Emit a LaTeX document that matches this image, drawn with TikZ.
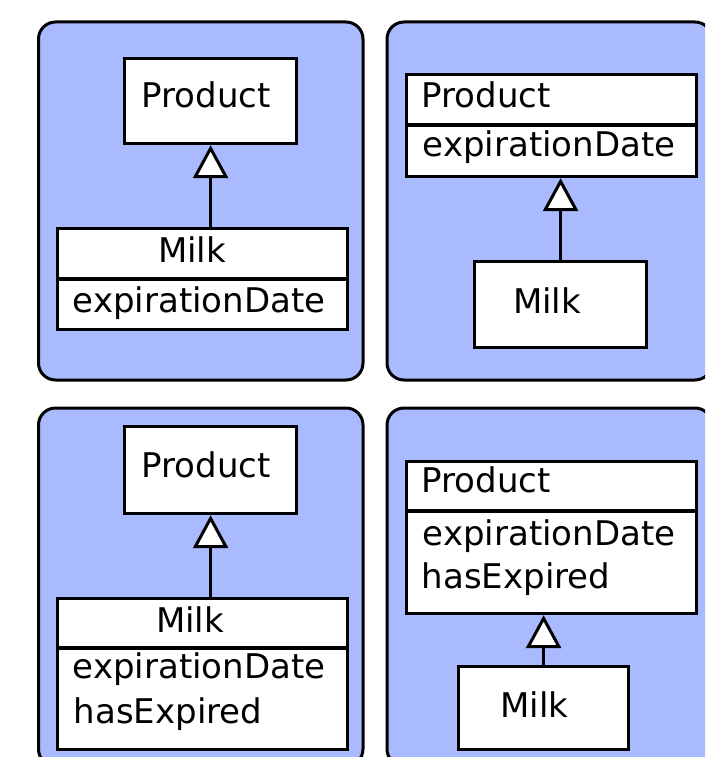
\documentclass[tikz,border=0pt]{standalone}
\usepackage{fontspec}
\newfontfamily\umlfont{DejaVu Sans}
\usetikzlibrary{arrows.meta,calc}
\definecolor{panelblue}{RGB}{170,186,255}
\tikzset{
  panel/.style={draw=black, line width=3pt, fill=panelblue, rounded corners=17pt},
  cls/.style={draw=black, line width=3.2pt, fill=white, rectangle, inner sep=0pt, anchor=north west},
  lbl/.style={inner sep=0pt, font=\umlfont\fontsize{34}{40}\selectfont},
  divider/.style={line width=3.2pt},
  inherit/.style={line width=3pt, -{Triangle[width=35pt,length=33pt,fill=white,line join=miter]}}
}
\begin{document}
\begin{tikzpicture}[x=1pt,y=-1pt]
\useasboundingbox (0,0) rectangle (705,757);
\clip (0,0) rectangle (705,757);

% four panels
\draw[panel] (38.5,22) rectangle (363,380);
\draw[panel] (387,22) rectangle (712,380);
\draw[panel] (38.5,408) rectangle (363,766);
\draw[panel] (387,408) rectangle (712,766);

% panel 1: attribute on the subclass
\node[cls, minimum width=172pt, minimum height=85pt] (prod1) at (123,57) {};
\node[cls, minimum width=290pt, minimum height=101pt] (milk1) at (56,227) {};
\draw[divider] ($(milk1.north west)+(0,52)$) -- ($(milk1.north east)+(0,52)$);
\node[lbl, anchor=base] (prod1t) at (206,108) {Product};
\node[lbl, anchor=base] (milk1t) at (192,262) {Milk};
\node[lbl, anchor=base west] (milk1a) at (72.5,312) {expirationDate};
\draw[inherit] (milk1.north -| prod1.south) -- (prod1.south);

% panel 2: attribute on the superclass
\node[cls, minimum width=290pt, minimum height=102pt] (prod2) at (405,73) {};
\node[cls, minimum width=172pt, minimum height=86pt] (milk2) at (473,260) {};
\draw[divider] ($(prod2.north west)+(0,52)$) -- ($(prod2.north east)+(0,52)$);
\node[lbl, anchor=base west] (prod2t) at (421.5,107) {Product};
\node[lbl, anchor=base west] (prod2a) at (422.5,157) {expirationDate};
\node[lbl, anchor=base] (milk2t) at (547,313) {Milk};
\draw[inherit] (milk2.north) -- (milk2.north |- prod2.south);

% panel 3: attribute and method on the subclass
\node[cls, minimum width=172pt, minimum height=87pt] (prod3) at (123,425) {};
\node[cls, minimum width=290pt, minimum height=151pt] (milk3) at (56,597) {};
\draw[divider] ($(milk3.north west)+(0,51)$) -- ($(milk3.north east)+(0,51)$);
\node[lbl, anchor=base] (prod3t) at (206,477) {Product};
\node[lbl, anchor=base] (milk3t) at (190,632) {Milk};
\node[lbl, anchor=base west] (milk3a) at (72.5,678) {expirationDate};
\node[lbl, anchor=base west] (milk3b) at (73.5,723) {hasExpired};
\draw[inherit] (milk3.north -| prod3.south) -- (prod3.south);

% panel 4: attribute and method on the superclass
\node[cls, minimum width=290pt, minimum height=152pt] (prod4) at (405,460) {};
\node[cls, minimum width=170pt, minimum height=83pt] (milk4) at (457,665) {};
\draw[divider] ($(prod4.north west)+(0,51)$) -- ($(prod4.north east)+(0,51)$);
\node[lbl, anchor=base west] (prod4t) at (421.5,492) {Product};
\node[lbl, anchor=base west] (prod4a) at (422.5,545) {expirationDate};
\node[lbl, anchor=base west] (prod4b) at (421.5,588) {hasExpired};
\node[lbl, anchor=base] (milk4t) at (534.5,717) {Milk};
\draw[inherit] (milk4.north) -- (milk4.north |- prod4.south);
\end{tikzpicture}
\end{document}
